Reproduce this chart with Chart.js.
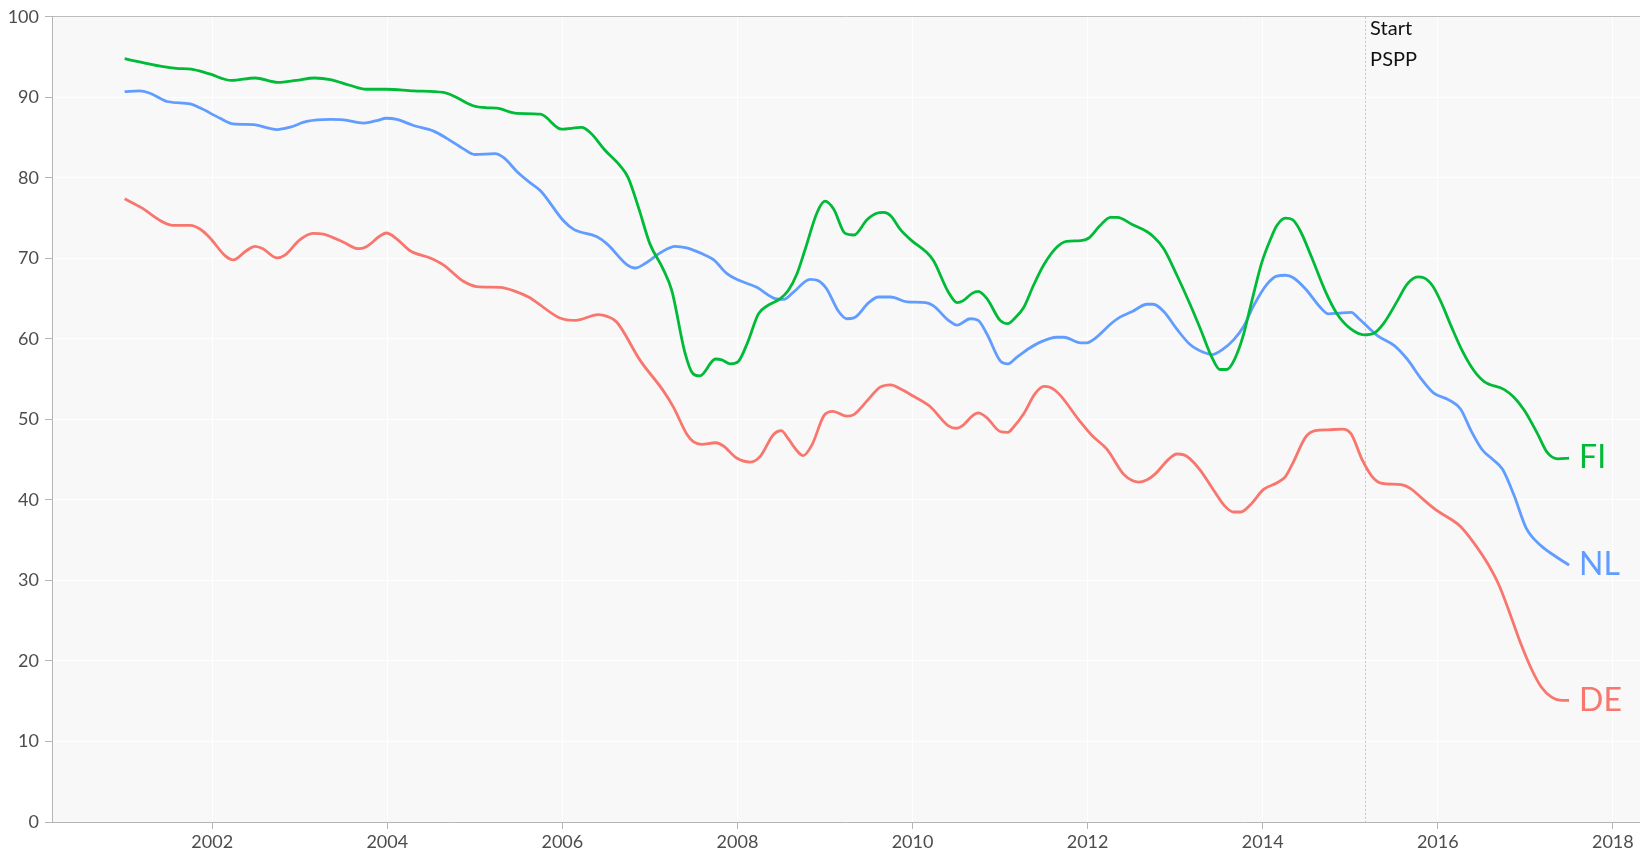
<!DOCTYPE html>
<html>
<head>
<meta charset="utf-8">
<script src="https://cdn.jsdelivr.net/npm/chart.js@4.4.1/dist/chart.umd.min.js"></script>
<style>
  html, body { margin: 0; padding: 0; background: #ffffff; }
  #wrap { width: 1640px; height: 852px; }
</style>
</head>
<body>
<div id="wrap"><canvas id="chart" width="1640" height="852"></canvas></div>
<script>
// values (decimal years)
const fiYears = [2001.00, 2001.21, 2001.44, 2001.59, 2001.76, 2001.97, 2002.22, 2002.49, 2002.75, 2002.96,
  2003.17, 2003.35, 2003.57, 2003.76, 2003.99, 2004.30, 2004.64, 2004.75, 2004.98, 2005.14,
  2005.25, 2005.48, 2005.75, 2005.99, 2006.22, 2006.32, 2006.49, 2006.66, 2006.75, 2006.87,
  2007.00, 2007.15, 2007.25, 2007.40, 2007.49, 2007.57, 2007.75, 2007.82, 2007.92, 2008.01,
  2008.11, 2008.24, 2008.34, 2008.49, 2008.58, 2008.68, 2008.77, 2008.91, 2009.00, 2009.10,
  2009.23, 2009.33, 2009.48, 2009.59, 2009.67, 2009.75, 2009.86, 2009.99, 2010.16, 2010.24,
  2010.41, 2010.51, 2010.58, 2010.68, 2010.75, 2010.85, 2011.00, 2011.09, 2011.17, 2011.27,
  2011.38, 2011.50, 2011.65, 2011.76, 2011.92, 2012.01, 2012.14, 2012.26, 2012.34, 2012.51,
  2012.68, 2012.75, 2012.87, 2013.02, 2013.17, 2013.29, 2013.42, 2013.51, 2013.59, 2013.68,
  2013.78, 2013.86, 2013.99, 2014.09, 2014.16, 2014.26, 2014.34, 2014.43, 2014.56, 2014.72,
  2014.85, 2015.01, 2015.16, 2015.27, 2015.38, 2015.54, 2015.65, 2015.77, 2015.84, 2015.94,
  2016.03, 2016.16, 2016.28, 2016.41, 2016.53, 2016.76, 2016.87, 2016.99, 2017.14, 2017.25,
  2017.37, 2017.50];
const fiValues = [94.8, 94.3, 93.8, 93.6, 93.5, 92.9, 92.1, 92.4, 91.85, 92.1,
  92.4, 92.2, 91.5, 91.0, 91.0, 90.8, 90.6, 90.2, 88.95, 88.7,
  88.65, 88.0, 87.9, 86.05, 86.26, 85.6, 83.4, 81.5, 80.05, 76.3,
  71.8, 68.7, 66.0, 58.3, 55.7, 55.4, 57.5, 57.4, 56.9, 57.2,
  59.4, 63.1, 64.1, 65.0, 66.0, 68.1, 71.0, 75.7, 77.1, 76.1,
  73.1, 72.9, 74.8, 75.6, 75.7, 75.3, 73.6, 72.2, 70.75, 69.7,
  65.8, 64.5, 64.75, 65.65, 65.9, 65.0, 62.3, 61.9, 62.6, 63.9,
  66.6, 69.2, 71.4, 72.1, 72.2, 72.5, 74.05, 75.1, 75.1, 74.2,
  73.3, 72.7, 71.2, 67.9, 64.3, 61.2, 57.7, 56.2, 56.2, 57.5,
  60.5, 64.0, 69.5, 72.4, 74.05, 75.0, 74.8, 73.4, 70.1, 65.8,
  63.1, 61.2, 60.5, 60.7, 61.9, 64.75, 66.8, 67.7, 67.6, 66.6,
  64.75, 61.4, 58.5, 56.1, 54.7, 53.7, 52.75, 51.1, 48.2, 45.9,
  45.1, 45.2];

const nlYears = [2001.00, 2001.17, 2001.29, 2001.50, 2001.75, 2001.86, 2002.09, 2002.24, 2002.47, 2002.74,
  2002.89, 2003.08, 2003.35, 2003.50, 2003.73, 2003.88, 2003.99, 2004.11, 2004.30, 2004.53,
  2004.68, 2004.87, 2005.00, 2005.23, 2005.33, 2005.48, 2005.63, 2005.75, 2006.01, 2006.13,
  2006.39, 2006.51, 2006.74, 2006.83, 2006.95, 2007.12, 2007.29, 2007.42, 2007.61, 2007.73,
  2007.88, 2008.01, 2008.22, 2008.43, 2008.53, 2008.64, 2008.83, 2008.93, 2009.02, 2009.15,
  2009.25, 2009.33, 2009.50, 2009.61, 2009.75, 2009.94, 2010.15, 2010.24, 2010.41, 2010.51,
  2010.66, 2010.75, 2010.85, 2011.00, 2011.09, 2011.19, 2011.33, 2011.46, 2011.65, 2011.73,
  2011.92, 2011.99, 2012.09, 2012.28, 2012.37, 2012.51, 2012.68, 2012.75, 2012.87, 2013.02,
  2013.17, 2013.33, 2013.42, 2013.55, 2013.67, 2013.78, 2013.90, 2014.05, 2014.16, 2014.26,
  2014.35, 2014.49, 2014.66, 2014.75, 2014.87, 2015.01, 2015.10, 2015.31, 2015.50, 2015.65,
  2015.82, 2015.95, 2016.13, 2016.26, 2016.38, 2016.51, 2016.62, 2016.74, 2016.87, 2017.01,
  2017.18, 2017.33, 2017.50];
const nlValues = [90.7, 90.8, 90.5, 89.45, 89.2, 88.7, 87.4, 86.7, 86.6, 86.0,
  86.3, 87.0, 87.25, 87.2, 86.8, 87.1, 87.4, 87.25, 86.5, 85.8,
  84.9, 83.6, 82.9, 83.0, 82.5, 80.8, 79.4, 78.4, 74.7, 73.6,
  72.7, 71.8, 69.2, 68.8, 69.4, 70.7, 71.5, 71.3, 70.5, 69.8,
  68.1, 67.3, 66.4, 65.0, 64.9, 65.8, 67.4, 67.2, 66.2, 63.5,
  62.5, 62.6, 64.5, 65.2, 65.2, 64.6, 64.5, 64.1, 62.3, 61.7,
  62.5, 62.3, 60.6, 57.3, 56.9, 57.7, 58.8, 59.6, 60.2, 60.2,
  59.5, 59.5, 60.1, 62.0, 62.7, 63.4, 64.3, 64.3, 63.4, 61.2,
  59.3, 58.3, 58.05, 58.75, 59.9, 61.5, 64.2, 66.8, 67.8, 67.9,
  67.6, 66.2, 63.9, 63.1, 63.2, 63.3, 62.5, 60.4, 59.2, 57.5,
  54.9, 53.3, 52.4, 51.3, 48.6, 46.2, 45.1, 43.8, 40.6, 36.5,
  34.3, 33.1, 31.9];

const deYears = [2001.00, 2001.19, 2001.44, 2001.55, 2001.75, 2001.86, 2001.97, 2002.15, 2002.24, 2002.39,
  2002.49, 2002.58, 2002.74, 2002.83, 2003.00, 2003.15, 2003.27, 2003.50, 2003.67, 2003.76,
  2003.92, 2003.99, 2004.11, 2004.26, 2004.49, 2004.64, 2004.87, 2005.02, 2005.29, 2005.44,
  2005.63, 2005.71, 2005.97, 2006.15, 2006.41, 2006.51, 2006.62, 2006.89, 2007.15, 2007.27,
  2007.42, 2007.50, 2007.59, 2007.75, 2007.84, 2007.99, 2008.15, 2008.26, 2008.41, 2008.50,
  2008.58, 2008.68, 2008.75, 2008.85, 2008.99, 2009.09, 2009.25, 2009.33, 2009.48, 2009.63,
  2009.75, 2009.86, 2009.99, 2010.20, 2010.41, 2010.50, 2010.58, 2010.68, 2010.75, 2010.85,
  2011.00, 2011.09, 2011.15, 2011.27, 2011.40, 2011.50, 2011.57, 2011.67, 2011.92, 2012.05,
  2012.22, 2012.41, 2012.51, 2012.58, 2012.68, 2012.77, 2012.93, 2013.02, 2013.10, 2013.17,
  2013.29, 2013.44, 2013.57, 2013.67, 2013.75, 2013.86, 2014.01, 2014.16, 2014.26, 2014.35,
  2014.49, 2014.60, 2014.74, 2014.91, 2015.01, 2015.14, 2015.25, 2015.35, 2015.58, 2015.69,
  2015.84, 2016.00, 2016.15, 2016.26, 2016.42, 2016.57, 2016.70, 2016.84, 2016.95, 2017.07,
  2017.18, 2017.30, 2017.41, 2017.50];
const deValues = [77.4, 76.3, 74.5, 74.1, 74.1, 73.65, 72.6, 70.3, 69.8, 70.95,
  71.5, 71.2, 70.05, 70.4, 72.3, 73.1, 73.0, 72.0, 71.2, 71.45,
  72.8, 73.15, 72.4, 70.95, 70.05, 69.2, 67.15, 66.5, 66.4, 66.0,
  65.1, 64.5, 62.6, 62.3, 63.0, 62.8, 62.1, 57.3, 53.6, 51.5,
  48.2, 47.2, 46.9, 47.1, 46.7, 45.2, 44.7, 45.4, 48.1, 48.6,
  47.6, 46.1, 45.5, 46.8, 50.5, 51.0, 50.4, 50.6, 52.3, 54.0,
  54.3, 53.8, 53.0, 51.6, 49.2, 48.9, 49.3, 50.4, 50.8, 50.2,
  48.5, 48.4, 49.0, 50.7, 53.2, 54.1, 54.0, 53.2, 49.65, 48.0,
  46.3, 43.2, 42.4, 42.2, 42.5, 43.2, 45.1, 45.7, 45.6, 45.1,
  43.65, 41.2, 39.2, 38.5, 38.5, 39.4, 41.3, 42.1, 42.9, 44.7,
  47.8, 48.6, 48.7, 48.8, 48.2, 44.9, 42.9, 42.1, 41.9, 41.4,
  40.0, 38.6, 37.6, 36.7, 34.55, 32.1, 29.4, 25.4, 22.1, 19.0,
  16.8, 15.5, 15.1, 15.1];

const seriesLabels = ["FI", "NL", "DE"];
const seriesColors = ["#00BA38", "#619CFF", "#F8766D"];
const xTicks = [2002, 2004, 2006, 2008, 2010, 2012, 2014, 2016, 2018];
const psppStart = 2015.17;
const psppText = ["Start", "PSPP"];

const toPoints = (xs, ys) => xs.map((x, i) => ({ x: x, y: ys[i] }));

const plotBackground = {
  id: "plotBackground",
  beforeDraw(chart) {
    const { ctx, chartArea } = chart;
    ctx.save();
    ctx.fillStyle = "#f8f8f8";
    ctx.fillRect(chartArea.left, chartArea.top, chartArea.right - chartArea.left, chartArea.bottom - chartArea.top);
    ctx.restore();
  },
};

const psppMarker = {
  id: "psppMarker",
  beforeDatasetsDraw(chart) {
    const { ctx, chartArea } = chart;
    const x = chart.scales.x.getPixelForValue(psppStart);
    ctx.save();
    ctx.strokeStyle = "#c4c4c4";
    ctx.lineWidth = 1;
    ctx.setLineDash([2, 2]);
    ctx.beginPath();
    ctx.moveTo(Math.round(x) + 0.5, chartArea.top);
    ctx.lineTo(Math.round(x) + 0.5, chartArea.bottom);
    ctx.stroke();
    ctx.restore();
  },
  afterDatasetsDraw(chart) {
    const { ctx, chartArea } = chart;
    const x = chart.scales.x.getPixelForValue(psppStart);
    ctx.save();
    ctx.fillStyle = "#111111";
    ctx.font = "20px Lato";
    ctx.textAlign = "left";
    ctx.textBaseline = "middle";
    ctx.fillText(psppText[0], x + 5, chartArea.top + 12);
    ctx.fillText(psppText[1], x + 5, chartArea.top + 43);
    // series names at the end of each line
    ctx.font = "32px Lato";
    chart.data.datasets.forEach((ds, i) => {
      const pts = chart.getDatasetMeta(i).data;
      const last = pts[pts.length - 1];
      ctx.fillStyle = seriesColors[i];
      ctx.fillText(ds.label, last.x + 10, last.y);
    });
    ctx.restore();
  },
};

const ctx = document.getElementById("chart");
new Chart(ctx, {
  type: "line",
  data: {
    datasets: [
      { label: seriesLabels[0], data: toPoints(fiYears, fiValues), borderColor: seriesColors[0] },
      { label: seriesLabels[1], data: toPoints(nlYears, nlValues), borderColor: seriesColors[1] },
      { label: seriesLabels[2], data: toPoints(deYears, deValues), borderColor: seriesColors[2] },
    ],
  },
  options: {
    responsive: false,
    animation: false,
    layout: { padding: { top: 16, right: 0, left: 0, bottom: 0 } },
    elements: {
      point: { radius: 0 },
      line: { borderWidth: 2.8, cubicInterpolationMode: "monotone", fill: false },
    },
    plugins: { legend: { display: false }, tooltip: { enabled: false } },
    scales: {
      x: {
        type: "linear",
        min: 2000.17,
        max: 2018.31,
        afterBuildTicks: (scale) => {
          scale.ticks = xTicks.map((v) => ({ value: v }));
        },
        afterFit: (scale) => {
          scale.height = 30;
        },
        grid: { color: "#ffffff", lineWidth: 1, tickColor: "#b5b5b5", tickLength: 7 },
        border: { color: "#b5b5b5", width: 1 },
        ticks: {
          color: "#4d4d4d",
          font: { family: "Lato", size: 18 },
          padding: 2,
          maxRotation: 0,
          autoSkip: false,
          callback: (value) => String(value),
        },
      },
      y: {
        min: 0,
        max: 100,
        afterFit: (scale) => {
          scale.width = 52;
        },
        grid: {
          color: (c) => (c.tick && c.tick.value === 100 ? "#bdbdbd" : "#ffffff"),
          lineWidth: 1,
          tickColor: "#b5b5b5",
          tickLength: 7,
        },
        border: { color: "#b5b5b5", width: 1 },
        ticks: {
          stepSize: 10,
          color: "#4d4d4d",
          font: { family: "Lato", size: 18 },
          padding: 6,
        },
      },
    },
  },
  plugins: [plotBackground, psppMarker],
});
</script>
</body>
</html>
